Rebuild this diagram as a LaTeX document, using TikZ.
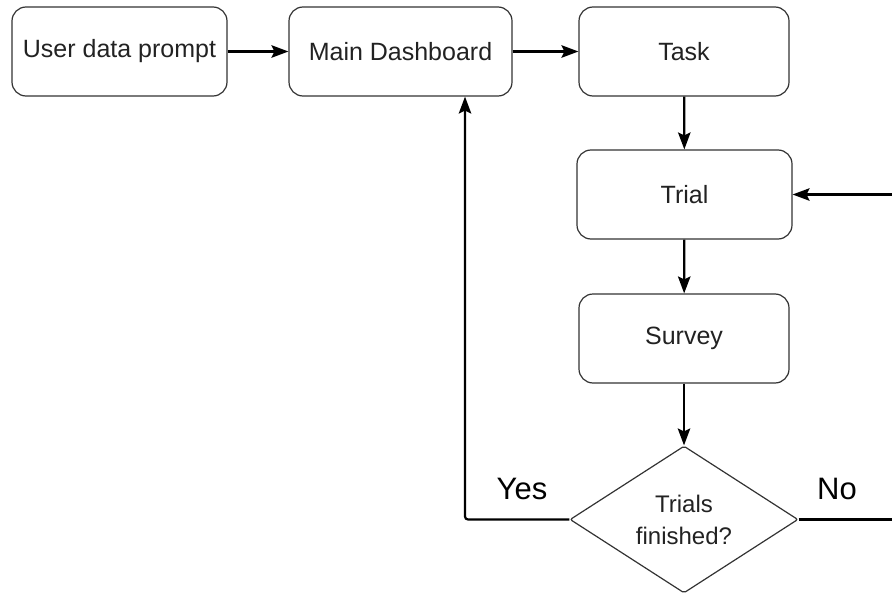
\documentclass[tikz,border=0pt]{standalone}
\usepackage{fontspec}
\setmainfont{Liberation Sans}
\usetikzlibrary{shapes.geometric,arrows.meta}
\definecolor{txt}{HTML}{222222}
\definecolor{edge}{HTML}{333333}
\tikzset{
  box/.style={draw=edge, line width=1.2pt, rounded corners=14pt, inner sep=0pt,
    minimum height=89pt, text=txt, font=\fontsize{25}{28}\selectfont},
  decbox/.style={diamond, draw=edge, line width=1.2pt, inner sep=0pt, aspect=1.55,
    minimum width=228pt, minimum height=147pt, text=txt, align=center,
    font=\fontsize{24}{32}\selectfont, rounded corners=2pt},
  arr/.style={line width=2.2pt, -{Stealth[length=17pt,width=12.5pt,inset=3pt]}},
  lbl/.style={font=\fontsize{31}{34}\selectfont, text=black, inner sep=0pt},
}
\begin{document}
\begin{tikzpicture}[x=1pt,y=-1pt]
\useasboundingbox (0,0) rectangle (892,594);
\clip (0,0) rectangle (892,594);
\node[box, minimum width=215pt] (user) at (119.5,51.5) {User data prompt};
\node[box, minimum width=223pt] (dash) at (400.5,51.5) {Main Dashboard};
\node[box, minimum width=210pt] (task) at (684,51.5) {Task};
\node[box, minimum width=215pt] (trial) at (684.5,194.5) {Trial};
\node[box, minimum width=210pt] (survey) at (684,338.5) {Survey};
\node[decbox] (dec) at (684,519.5) {Trials\\finished?};
\coordinate (yesc) at (465,519.5);
\coordinate (noc) at (905,519.5);
\draw[arr] (user) -- (dash);
\draw[arr] (dash) -- (task);
\draw[arr] (task) -- (trial);
\draw[arr] (trial) -- (survey);
\draw[arr] (survey) -- (dec);
\draw[arr, rounded corners=3pt] (dec.west) -- (yesc) -- (yesc |- dash.south);
\draw[arr] (dec.east) -- (noc) |- (trial.east);
\node[lbl] (yes) at (522,489) {Yes};
\node[lbl] (no) at (837,489) {No};
\end{tikzpicture}
\end{document}
